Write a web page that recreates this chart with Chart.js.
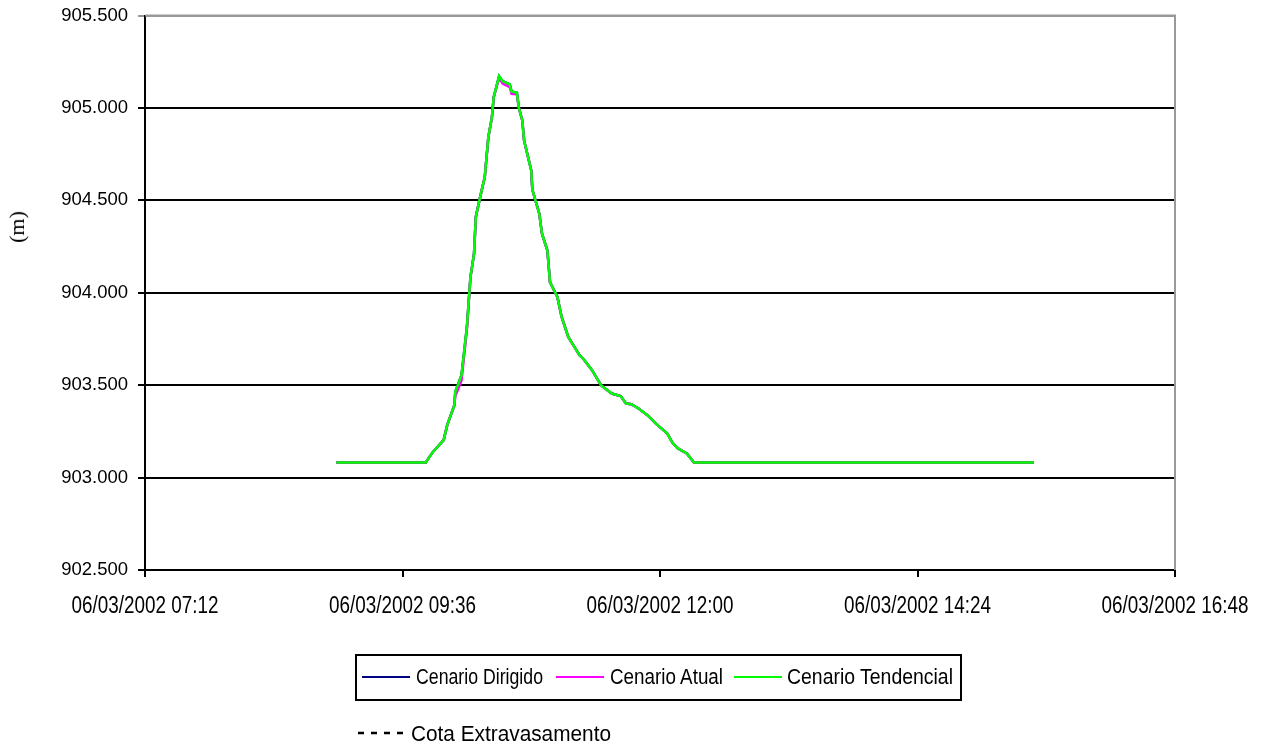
<!DOCTYPE html>
<html>
<head>
<meta charset="utf-8">
<script src="https://cdn.jsdelivr.net/npm/chart.js@4.4.0/dist/chart.umd.min.js"></script>
<style>
  body { margin: 0; background: #fff; }
  #wrap { position: relative; width: 1262px; height: 749px; }
  #ytitle {
    position: absolute; left: 17px; top: 227px;
    transform: translate(-50%, -50%) rotate(-90deg);
    font: 22px 'Liberation Serif', 'Times New Roman', serif; color: #000;
  }
  #legend { position: absolute; left: 0; top: 640px; }
  #legend text { font-family: 'Liberation Sans', Arial, sans-serif; font-size: 22px; fill: #000; }
</style>
</head>
<body>
<div id="wrap">
  <canvas id="chart" width="1262" height="749"></canvas>
  <div id="ytitle">(m)</div>
  <svg id="legend" width="1262" height="109"></svg>
</div>
<script>
// time in minutes after midnight, 06/03/2002
const times = [539, 589, 593, 599, 601, 605, 605.5, 609, 612, 614, 616, 617, 619, 622, 624, 626, 627, 630,
  632, 636, 637, 640, 641, 643, 644, 648, 648.6, 652.5, 654, 657, 658.5, 662.6, 665, 668.7, 671, 675, 677,
  682, 687, 693, 698, 701, 704, 708, 713, 718, 724, 727, 730, 735, 739, 929];

const tendencial = [903.082, 903.082, 903.139, 903.203, 903.284, 903.392, 903.464, 903.554, 903.815, 904.085,
  904.212, 904.410, 904.500, 904.626, 904.842, 904.950, 905.058, 905.172, 905.145, 905.127, 905.089, 905.082,
  905.004, 904.932, 904.824, 904.662, 904.558, 904.428, 904.320, 904.230, 904.058, 903.977, 903.869, 903.761,
  903.725, 903.662, 903.644, 903.581, 903.500, 903.455, 903.441, 903.401, 903.397, 903.374, 903.338, 903.289,
  903.239, 903.188, 903.158, 903.131, 903.082, 903.082];

const atual = [903.082, 903.082, 903.139, 903.203, 903.284, 903.392, 903.440, 903.525, 903.800, 904.085,
  904.212, 904.410, 904.500, 904.626, 904.842, 904.950, 905.058, 905.160, 905.132, 905.112, 905.076, 905.074,
  905.004, 904.932, 904.824, 904.662, 904.558, 904.428, 904.320, 904.230, 904.058, 903.977, 903.869, 903.761,
  903.725, 903.662, 903.644, 903.581, 903.500, 903.455, 903.441, 903.401, 903.397, 903.374, 903.338, 903.289,
  903.239, 903.188, 903.158, 903.131, 903.082, 903.082];

const dirigido = tendencial.slice();

const seriesNames = ['Cenario Dirigido', 'Cenario Atual', 'Cenario Tendencial'];
const seriesColors = ['#000080', '#ff00ff', '#00ff00'];

const yTicks = [902.5, 903.0, 903.5, 904.0, 904.5, 905.0, 905.5];
const xTicks = [432, 576, 720, 864, 1008]; // 07:12 ... 16:48

function fmtTime(m) {
  const h = Math.floor(m / 60), mm = Math.round(m % 60);
  return '06/03/2002 ' + String(h).padStart(2, '0') + ':' + String(mm).padStart(2, '0');
}

const pts = vals => vals.map((v, i) => ({ x: times[i], y: v }));

// gray frame on top/right of plot area
const frame = {
  id: 'frame',
  beforeDatasetsDraw(chart) {
    const { ctx, chartArea: a } = chart;
    ctx.save();
    ctx.strokeStyle = '#999';
    ctx.lineWidth = 2;
    ctx.beginPath();
    ctx.moveTo(a.left, a.top);
    ctx.lineTo(a.right, a.top);
    ctx.lineTo(a.right, a.bottom);
    ctx.stroke();
    ctx.restore();
  }
};

// x tick labels in a condensed look (the library's own labels are kept transparent for layout)
const narrowX = {
  id: 'narrowX',
  afterDraw(chart) {
    const { ctx } = chart;
    const xs = chart.scales.x;
    ctx.save();
    ctx.fillStyle = '#000';
    ctx.font = "23px 'Liberation Sans', Arial, sans-serif";
    ctx.textAlign = 'center';
    ctx.textBaseline = 'middle';
    xs.ticks.forEach(t => {
      ctx.save();
      ctx.translate(xs.getPixelForValue(t.value), 607);
      ctx.scale(0.82, 1);
      ctx.fillText(fmtTime(t.value), 0, 0);
      ctx.restore();
    });
    ctx.restore();
  }
};

const tickFont = { family: "'Liberation Sans', Arial, sans-serif", size: 18.5, lineHeight: 0.6 };
const xFont = { family: "'Liberation Sans', Arial, sans-serif", size: 12 };

new Chart(document.getElementById('chart'), {
  type: 'line',
  data: {
    datasets: [
      { label: seriesNames[0], data: pts(dirigido), borderColor: seriesColors[0], order: 3 },
      { label: seriesNames[1], data: pts(atual), borderColor: seriesColors[1], order: 2 },
      { label: seriesNames[2], data: pts(tendencial), borderColor: seriesColors[2], order: 1 },
    ]
  },
  options: {
    responsive: false,
    animation: false,
    elements: { point: { radius: 0 }, line: { borderWidth: 2.5, tension: 0 } },
    layout: { padding: { top: 15, right: 87, bottom: 119, left: 0 } },
    plugins: { legend: { display: false }, tooltip: { enabled: false } },
    scales: {
      x: {
        type: 'linear',
        min: xTicks[0],
        max: xTicks[xTicks.length - 1],
        afterBuildTicks: s => { s.ticks = xTicks.map(v => ({ value: v })); },
        afterFit: s => { s.height = 60; },
        border: { color: '#000', width: 2 },
        grid: { drawOnChartArea: false, drawTicks: true, tickLength: 7, color: '#000', lineWidth: 2 },
        ticks: { color: 'rgba(0,0,0,0)', font: xFont, padding: 18, maxRotation: 0, callback: v => fmtTime(v) }
      },
      y: {
        min: 902.5,
        max: 905.5,
        afterBuildTicks: s => { s.ticks = yTicks.map(v => ({ value: v })); },
        afterFit: s => { s.width = 145; },
        border: { color: '#000', width: 2 },
        grid: {
          tickLength: 7,
          lineWidth: 2,
          color: c => (c.tick && c.tick.value === 905.5 ? '#999' : '#000')
        },
        ticks: { color: '#000', font: tickFont, padding: 10, callback: v => v.toFixed(3) }
      }
    }
  },
  plugins: [frame, narrowX]
});

// legend drawn as svg (narrow text squeezed with textLength)
const NS = 'http://www.w3.org/2000/svg';
const svg = document.getElementById('legend');
function el(tag, attrs, txt) {
  const e = document.createElementNS(NS, tag);
  for (const k in attrs) e.setAttribute(k, attrs[k]);
  if (txt) e.textContent = txt;
  svg.appendChild(e);
  return e;
}
el('rect', { x: 356, y: 15, width: 605, height: 45, fill: 'none', stroke: '#000', 'stroke-width': 2 });
const lineX = [362, 556, 734];
const textX = [416, 610, 787];
const textLen = [127, 113, 166];
seriesNames.forEach((n, i) => {
  el('line', { x1: lineX[i], x2: lineX[i] + 48, y1: 37, y2: 37, stroke: seriesColors[i], 'stroke-width': 2 });
  el('text', { x: textX[i], y: 44, textLength: textLen[i], lengthAdjust: 'spacingAndGlyphs' }, n);
});
el('line', { x1: 358, x2: 404, y1: 93, y2: 93, stroke: '#000', 'stroke-width': 2.5, 'stroke-dasharray': '6 7' });
el('text', { x: 411, y: 101, textLength: 200, lengthAdjust: 'spacingAndGlyphs' }, 'Cota Extravasamento');
</script>
</body>
</html>
